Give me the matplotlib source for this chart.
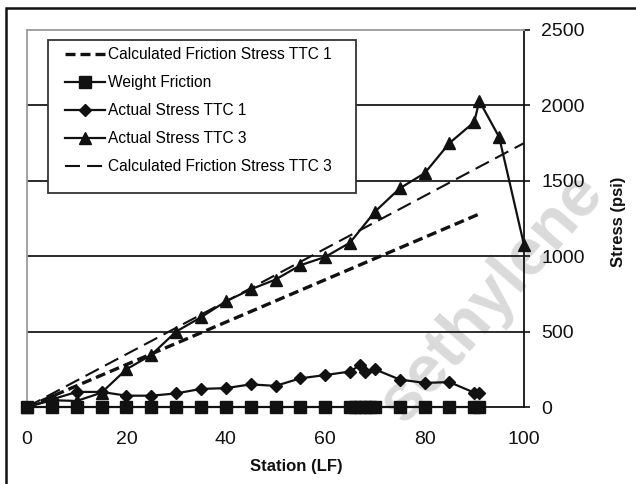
import matplotlib
matplotlib.use('Agg')
import matplotlib.pyplot as plt
from matplotlib.patches import Rectangle

plt.rcParams['font.family'] = ['Liberation Sans', 'DejaVu Sans']

# station positions (LF) and stresses (psi)
st_calc1 = [0, 91]
calc_ttc1 = [0, 1280]

st_weight = [0, 5, 10, 15, 20, 25, 30, 35, 40, 45, 50, 55, 60,
             65, 66, 67, 68, 69, 70, 75, 80, 85, 90, 91]
weight_fric = [0] * len(st_weight)

st_ttc1 = [0, 5, 10, 15, 20, 25, 30, 35, 40, 45, 50, 55, 60,
           65, 67, 68, 70, 75, 80, 85, 90, 91]
actual_ttc1 = [0, 50, 100, 100, 75, 75, 90, 120, 125, 150, 140, 190, 212,
               235, 278, 232, 250, 182, 160, 165, 95, 95]

st_ttc3 = [0, 5, 10, 15, 20, 25, 30, 35, 40, 45, 50, 55, 60,
           65, 70, 75, 80, 85, 90, 91, 95, 100]
actual_ttc3 = [0, 45, 40, 95, 250, 345, 500, 595, 700, 780, 845, 940, 995,
               1090, 1295, 1450, 1550, 1750, 1890, 2030, 1790, 1075]

st_calc3 = [0, 100]
calc_ttc3 = [0, 1750]

W, H = 636, 484
fig = plt.figure(figsize=(W / 100, H / 100), dpi=100)
ax = fig.add_axes([27/W, 1 - 407/H, 497/W, 377/H])

# watermark, behind the data
fig.text(492/W, 1 - 298/H, 'sethylene', ha='center', va='center',
         rotation=49, fontsize=48, fontweight='bold', color='#dadada',
         zorder=-5)

grid_c = '#2a2a2a'
for v in [500, 1000, 1500, 2000]:
    ax.axhline(v, color=grid_c, lw=1.4, zorder=1)

ax.plot(st_calc1, calc_ttc1, color='#111111', lw=2.4, dashes=(3.0, 1.5),
        label='Calculated Friction Stress TTC 1', zorder=3)
ax.plot(st_weight, weight_fric, color='#111111', lw=1.6, marker='s', ms=8,
        label='Weight Friction', zorder=4, clip_on=False)
ax.plot(st_ttc1, actual_ttc1, color='#111111', lw=1.6, marker='D', ms=6.5,
        label='Actual Stress TTC 1', zorder=4, clip_on=False)
ax.plot(st_ttc3, actual_ttc3, color='#111111', lw=1.6, marker='^', ms=8,
        label='Actual Stress TTC 3', zorder=4, clip_on=False)
ax.plot(st_calc3, calc_ttc3, color='#111111', lw=1.5, dashes=(7.2, 3.4),
        label='Calculated Friction Stress TTC 3', zorder=3)

ax.set_xlim(0, 100)
ax.set_ylim(0, 2500)
ax.set_xticks([0, 20, 40, 60, 80, 100])
ax.set_yticks([0, 500, 1000, 1500, 2000, 2500])
ax.yaxis.tick_right()
ax.tick_params(axis='y', direction='out', length=4.5, width=1.2, pad=8,
               labelsize=14, colors='#111111')
ax.tick_params(axis='x', length=0, pad=17, labelsize=14, colors='#111111')

ax.spines['top'].set_color('#9a9a9a')
ax.spines['left'].set_color('#9a9a9a')
ax.spines['right'].set_color('#111111')
ax.spines['bottom'].set_color('#111111')
for s in ax.spines.values():
    s.set_linewidth(1.3)
ax.set_facecolor('none')

# legend box drawn by hand so its padding matches the original
leg_box = Rectangle((48/W, 1 - 193/H), 308/W, 153/H, transform=fig.transFigure,
                    facecolor='white', edgecolor='#333333', lw=1.3, zorder=5)
ax.add_patch(leg_box)
leg_box.set_clip_on(False)

leg = ax.legend(loc='upper left', bbox_to_anchor=(65/W, 1 - 47/H),
                bbox_transform=fig.transFigure, borderaxespad=0, borderpad=0,
                fontsize=11.2, frameon=False, handlelength=2.57,
                handletextpad=0.2, labelspacing=0.84)
leg.set_zorder(6)

fig.text(296/W, 1 - 467/H, 'Station (LF)', ha='center', va='center',
         fontsize=12, fontweight='bold', color='#111111')
fig.text(618/W, 1 - 222/H, 'Stress (psi)', ha='center', va='center',
         rotation=90, fontsize=12, fontweight='bold', color='#111111')

# outer frame
fig.patches.append(Rectangle((6/W, -0.1), 1.2, 1.1 - 8/H,
                             transform=fig.transFigure, fill=False,
                             edgecolor='#111111', lw=1.8))

fig.savefig('out.png', dpi=100)
